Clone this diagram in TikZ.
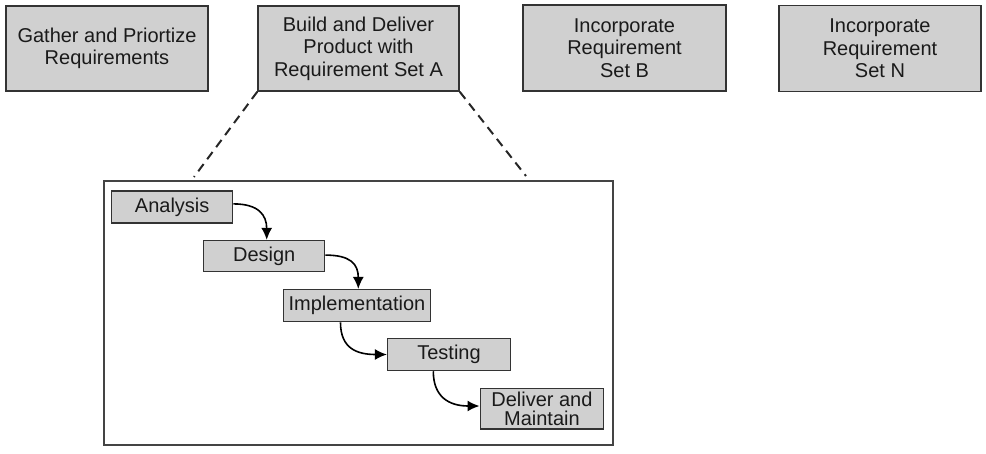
\documentclass[tikz,border=0pt]{standalone}
\usepackage{fontspec}
\setmainfont{Liberation Sans}
\usetikzlibrary{arrows.meta}
\definecolor{boxfill}{HTML}{D0D0D0}
\definecolor{boxline}{HTML}{333333}
\definecolor{frameline}{HTML}{444444}
\definecolor{txt}{HTML}{1A1A1A}
\begin{document}
\begin{tikzpicture}[x=1pt,y=-1pt,
  topbox/.style={draw=boxline, fill=boxfill, line width=1.5pt, inner sep=0pt,
    align=center, text=txt, font=\fontsize{20}{22.5}\selectfont},
  stepbox/.style={draw=boxline, fill=boxfill, line width=1.5pt, inner sep=0pt,
    align=center, text=txt, font=\fontsize{20}{19}\selectfont},
  framebox/.style={draw=frameline, line width=1.8pt, inner sep=0pt},
  flow/.style={-{Latex[length=12pt,width=11pt]}, line width=1.6pt, black},
  zoomline/.style={dash pattern=on 9pt off 6pt, line width=2pt, black!85}]

\useasboundingbox (0,0) rectangle (986,453);

% top row
\node[topbox, minimum width=202pt, minimum height=85pt] (gather) at (107,48.5)
  {Gather and Priortize\\Requirements};
\node[topbox, minimum width=201pt, minimum height=85pt] (build) at (358.5,48.5)
  {Build and Deliver\\Product with\\Requirement Set A};
\node[topbox, minimum width=203pt, minimum height=86pt] (setb) at (624.5,48)
  {Incorporate\\Requirement\\Set B};
\node[topbox, minimum width=202pt, minimum height=86pt] (setn) at (880,48.5)
  {Incorporate\\Requirement\\Set N};

% detail frame
\node[framebox, minimum width=509pt, minimum height=264pt] (detail) at (358.5,313) {};

\coordinate (zl) at (194,177);
\coordinate (zr) at (526,176);
\draw[zoomline] (build.south west) -- (zl);
\draw[zoomline] (build.south east) -- (zr);

% waterfall steps
\node[stepbox, minimum width=121pt, minimum height=32pt] (analysis) at (172.2,206.9) {Analysis};
\node[stepbox, minimum width=121pt, minimum height=31pt] (design) at (264.2,256.1) {Design};
\node[stepbox, minimum width=146.6pt, minimum height=32pt] (impl) at (357,305.7) {Implementation};
\node[stepbox, minimum width=122.7pt, minimum height=32pt] (testing) at (449,354.5) {Testing};
\node[stepbox, minimum width=123.3pt, minimum height=40.5pt] (deliver) at (541.9,408.7) {Deliver and\\Maintain};

\draw[flow] ([yshift=3pt]analysis.east) .. controls +(25,0) and +(0,-25) .. ([xshift=2.5pt]design.north);
\draw[flow] ([yshift=1pt]design.east) .. controls +(25,0) and +(0,-25) .. ([xshift=1.3pt]impl.north);
\draw[flow] ([xshift=-16.5pt]impl.south) .. controls +(0,26) and +(-30,0) .. (testing.west);
\draw[flow] ([xshift=-15.7pt]testing.south) .. controls +(0,26) and +(-30,0) .. ([yshift=2.7pt]deliver.west);
\end{tikzpicture}
\end{document}
